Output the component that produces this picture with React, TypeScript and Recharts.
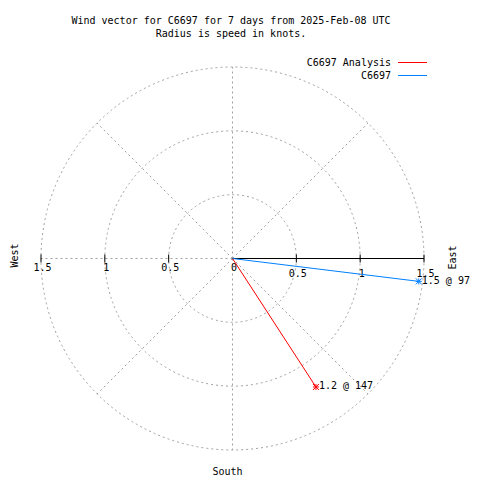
import React from "react";
import {
  ScatterChart,
  Scatter,
  XAxis,
  YAxis,
  ReferenceLine,
  ReferenceDot,
  ReferenceArea,
  Legend,
} from "recharts";

const titleLines = [
  "Wind vector for C6697 for 7 days from 2025-Feb-08 UTC",
  "Radius is speed in knots.",
];
const seriesNames = ["C6697 Analysis", "C6697"];
const seriesColors = ["#ff0000", "#0080ff"];
const speeds = [1.2, 1.47];
const directions = [147, 97];
const spokeAngles = [0, 45, 90, 135, 180, 225, 270, 315];
const ringRadii = [0.5, 1, 1.5];
const maxRadius = 1.5;
const leftTicks = [-1.5, -1, -0.5, 0];
const rightTicks = [0.5, 1, 1.5];
const compassNames = ["West", "East", "South"];

const FONT = "'DejaVu Sans Mono', 'Liberation Mono', monospace";
const GRID = "#a0a0a0";
const DASH = "2 3";

const toRad = (d: number) => (d * Math.PI) / 180;
const polar = (r: number, deg: number) => ({
  x: r * Math.sin(toRad(deg)),
  y: r * Math.cos(toRad(deg)),
});
const vectorSeries = speeds.map((s, i) => [
  { x: 0, y: 0, end: false },
  {
    ...polar(s, directions[i]),
    end: true,
    label: `${s.toFixed(1)} @ ${directions[i]}`,
  },
]);
const compassPoints = [
  { name: compassNames[0], ...polar(maxRadius, 270) },
  { name: compassNames[1], ...polar(maxRadius, 90) },
  { name: compassNames[2], ...polar(maxRadius, 180) },
];

const ringShape = (props: any) => {
  const { x, y, width, height } = props;
  return (
    <ellipse
      cx={x + width / 2}
      cy={y + height / 2}
      rx={Math.abs(width) / 2}
      ry={Math.abs(height) / 2}
      fill="none"
      stroke={GRID}
      strokeDasharray={DASH}
    />
  );
};

const makeShape = (color: string) => (props: any) => {
  const { cx, cy, payload } = props;
  if (!payload || !payload.end) return <g />;
  const a = 3;
  return (
    <g>
      <line x1={cx - a} y1={cy} x2={cx + a} y2={cy} stroke={color} />
      <line x1={cx} y1={cy - a} x2={cx} y2={cy + a} stroke={color} />
      <line x1={cx - a} y1={cy - a} x2={cx + a} y2={cy + a} stroke={color} />
      <line x1={cx - a} y1={cy + a} x2={cx + a} y2={cy - a} stroke={color} />
      <text
        x={cx + 3}
        y={cy - 1}
        dominantBaseline="central"
        fontFamily={FONT}
        fontSize={10}
        fill="#000"
      >
        {payload.label}
      </text>
    </g>
  );
};

const tickShape = (label: string, dy: number) => (props: any) => {
  const { cx, cy } = props;
  return (
    <g>
      {label !== "0" && (
        <line x1={cx} y1={cy - 4} x2={cx} y2={cy + 4} stroke="#000" />
      )}
      <text
        x={cx + 1.5}
        y={cy + dy}
        textAnchor="middle"
        dominantBaseline="central"
        fontFamily={FONT}
        fontSize={10}
        fill="#000"
      >
        {label}
      </text>
    </g>
  );
};

const compassShape = (name: string) => (props: any) => {
  const { cx, cy } = props;
  let x = cx;
  let y = cy;
  let rot = 0;
  if (name === "West") {
    x = cx - 27;
    y = cy - 3;
    rot = -90;
  } else if (name === "East") {
    x = cx + 28;
    y = cy - 1;
    rot = -90;
  } else {
    x = cx - 5;
    y = cy + 21;
  }
  return (
    <text
      x={x}
      y={y}
      textAnchor="middle"
      dominantBaseline="central"
      fontFamily={FONT}
      fontSize={10}
      fill="#000"
      transform={rot ? `rotate(${rot} ${x} ${y})` : undefined}
    >
      {name}
    </text>
  );
};

const LegendContent = (props: any) => {
  const payload = props.payload || [];
  const ordered = seriesNames
    .map((n) => payload.find((e: any) => e.value === n))
    .filter(Boolean);
  return (
    <div style={{ fontFamily: FONT, fontSize: 10, color: "#000" }}>
      {ordered.map((e: any, i: number) => (
        <div
          key={i}
          style={{
            display: "flex",
            alignItems: "center",
            justifyContent: "flex-end",
            height: 13,
          }}
        >
          <span>{e.value}</span>
          <span
            style={{
              display: "inline-block",
              width: 29,
              height: 0,
              borderTop: `1px solid ${seriesColors[seriesNames.indexOf(e.value)]}`,
              marginLeft: 7,
            }}
          />
        </div>
      ))}
    </div>
  );
};

const MARGIN = { top: 67, right: 56, bottom: 30, left: 41 };

export default function App() {
  return (
    <div
      style={{
        position: "absolute",
        left: 0,
        top: 0,
        width: 480,
        height: 480,
        background: "#fff",
      }}
    >
      <div style={{ position: "absolute", left: 0, top: 0 }}>
        <ScatterChart width={480} height={480} margin={MARGIN}>
          <XAxis
            type="number"
            dataKey="x"
            domain={[-maxRadius, maxRadius]}
            hide
          />
          <YAxis
            type="number"
            dataKey="y"
            domain={[-maxRadius, maxRadius]}
            hide
          />
          {ringRadii.map((r) => (
            <ReferenceArea
              key={`ring${r}`}
              x1={-r}
              x2={r}
              y1={-r}
              y2={r}
              shape={ringShape}
            />
          ))}
          {spokeAngles.map((a) => (
            <ReferenceLine
              key={`spoke${a}`}
              segment={[{ x: 0, y: 0 }, polar(maxRadius, a)]}
              stroke={GRID}
              strokeDasharray={DASH}
            />
          ))}
          <ReferenceLine
            segment={[{ x: 0, y: 0 }, polar(maxRadius, 90)]}
            stroke="#000"
            strokeWidth={1}
          />
          {leftTicks.map((t) => (
            <ReferenceDot
              key={`l${t}`}
              x={t}
              y={0}
              r={0}
              shape={tickShape(String(Math.abs(t)), 9)}
            />
          ))}
          {rightTicks.map((t) => (
            <ReferenceDot
              key={`r${t}`}
              x={t}
              y={0}
              r={0}
              shape={tickShape(String(t), 15)}
            />
          ))}
          {compassPoints.map((c) => (
            <ReferenceDot
              key={c.name}
              x={c.x}
              y={c.y}
              r={0}
              shape={compassShape(c.name)}
            />
          ))}
          {vectorSeries.map((d, i) => (
            <Scatter
              key={seriesNames[i]}
              name={seriesNames[i]}
              data={d}
              fill={seriesColors[i]}
              stroke={seriesColors[i]}
              line={{ stroke: seriesColors[i], strokeWidth: 1 }}
              shape={makeShape(seriesColors[i])}
              isAnimationActive={false}
            />
          ))}
          <Legend
            layout="horizontal"
            verticalAlign="middle"
            align="center"
            content={<LegendContent />}
            wrapperStyle={{
              position: "absolute",
              top: 56,
              left: 0,
              width: 427,
              margin: 0,
            }}
          />
        </ScatterChart>
      </div>
      <div
        style={{
          position: "absolute",
          left: 0,
          top: 13.5,
          width: 462,
          textAlign: "center",
          fontFamily: FONT,
          fontSize: 10,
          lineHeight: "13px",
          color: "#000",
          whiteSpace: "pre",
        }}
      >
        {titleLines.map((t, i) => (
          <div key={i}>{t}</div>
        ))}
      </div>
    </div>
  );
}
